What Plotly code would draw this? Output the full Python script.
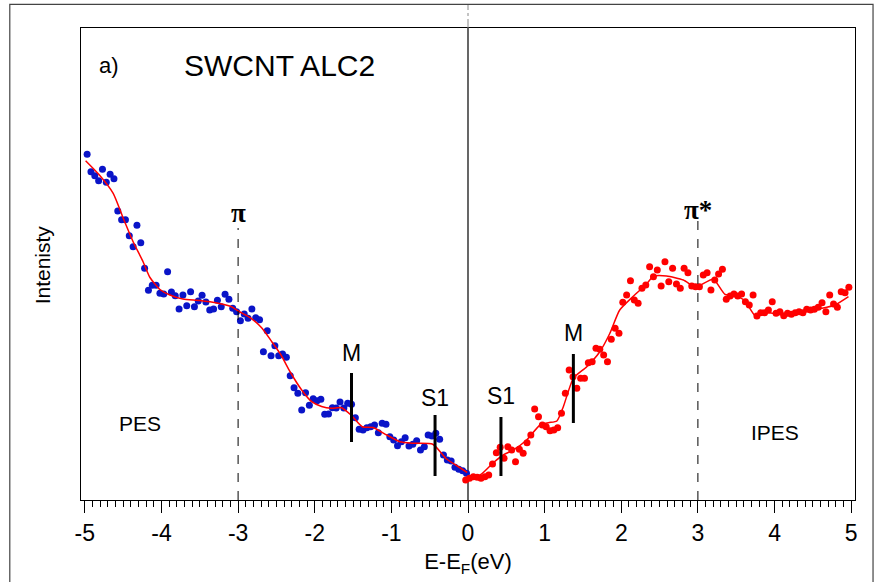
import plotly.graph_objects as go

# ---------------- data ----------------
PES_START, IPES_START, STEP = -4.97, -0.03, 0.05

pes_intensity = [
    3.457, 3.283, 3.243, 3.193, 3.307, 3.177, 3.257, 3.213, 2.890, 2.803,
    2.803, 2.643, 2.533, 2.747, 2.573, 2.317, 2.097, 2.147, 2.147, 2.067,
    2.060, 2.283, 2.080, 2.043, 1.910, 2.050, 1.943, 2.083, 1.933, 1.990,
    2.047, 1.980, 1.900, 1.910, 1.997, 1.933, 2.057, 2.007, 1.917, 1.883,
    1.793, 1.860, 1.817, 1.910, 1.823, 1.803, 1.483, 1.693, 1.443, 1.543,
    1.443, 1.460, 1.427, 1.243, 1.123, 1.067, 0.900, 1.073, 0.947, 1.013,
    0.993, 1.007, 0.857, 0.860, 0.923, 0.920, 0.980, 0.920, 0.967, 0.957,
    0.823, 0.707, 0.700, 0.723, 0.733, 0.750, 0.673, 0.767, 0.757, 0.633,
    0.600, 0.543, 0.583, 0.623, 0.540, 0.557, 0.593, 0.500, 0.533, 0.650,
    0.640, 0.667, 0.607, 0.450, 0.400, 0.390, 0.327, 0.307, 0.293, 0.267,
]
pes_energy = [round(PES_START + STEP * i, 3) for i in range(len(pes_intensity))]

ipes_intensity = [
    0.200, 0.217, 0.233, 0.227, 0.217, 0.233, 0.250, 0.360, 0.473, 0.527,
    0.417, 0.533, 0.500, 0.383, 0.507, 0.467, 0.573, 0.650, 0.910, 0.833,
    0.750, 0.733, 0.693, 0.700, 0.723, 0.867, 1.067, 1.300, 1.233, 1.117,
    1.217, 1.217, 1.373, 1.383, 1.517, 1.507, 1.450, 1.383, 1.607, 1.717,
    1.667, 1.977, 2.050, 2.193, 2.000, 1.967, 2.117, 2.150, 2.333, 2.233,
    2.300, 2.140, 2.383, 2.183, 2.317, 2.160, 2.117, 2.317, 2.273, 2.140,
    2.133, 2.133, 2.250, 2.273, 2.100, 2.200, 2.260, 2.307, 2.007, 2.040,
    2.060, 2.040, 2.060, 1.983, 1.950, 2.050, 1.840, 1.873, 1.873, 1.900,
    1.983, 1.867, 1.883, 1.843, 1.867, 1.857, 1.873, 1.883, 1.873, 1.907,
    1.900, 1.907, 1.927, 1.973, 1.883, 2.050, 1.960, 1.927, 2.083, 2.073,
    2.127,
]
ipes_energy = [round(IPES_START + STEP * i, 3) for i in range(len(ipes_intensity))]

pes_fit_energy = [-4.99, -4.81, -4.63, -4.50, -4.37, -4.24, -4.15, -4.02, -3.89, -3.72,
                  -3.50, -3.26, -3.085, -3.00, -2.83, -2.69, -2.56, -2.44, -2.32, -2.17,
                  -2.04, -1.91, -1.78, -1.65, -1.52, -1.38, -1.24, -1.06, -0.89, -0.71,
                  -0.46, -0.28, -0.14, -0.01]
pes_fit_intensity = [3.393, 3.250, 3.067, 2.820, 2.583, 2.383, 2.225, 2.105, 2.050, 2.010,
                     1.995, 1.967, 1.933, 1.890, 1.817, 1.720, 1.583, 1.450, 1.280, 1.100,
                     0.983, 0.935, 0.917, 0.923, 0.845, 0.733, 0.725, 0.650, 0.583, 0.567,
                     0.557, 0.410, 0.340, 0.275]

ipes_fit_energy = [-0.04, 0.157, 0.33, 0.46, 0.59, 0.766, 0.94, 1.05, 1.16, 1.244,
                   1.375, 1.55, 1.72, 1.85, 1.98, 2.16, 2.33, 2.42, 2.59, 2.81,
                   2.94, 3.01, 3.20, 3.355, 3.486, 3.616, 3.747, 3.91, 4.17, 4.41,
                   4.62, 4.79, 4.965]
ipes_fit_intensity = [0.217, 0.250, 0.373, 0.450, 0.500, 0.600, 0.750, 0.773, 0.790, 0.933,
                      1.217, 1.333, 1.483, 1.665, 1.900, 2.040, 2.160, 2.237, 2.240, 2.200,
                      2.140, 2.140, 2.207, 2.055, 2.050, 1.990, 1.845, 1.873, 1.845, 1.890,
                      1.917, 1.950, 2.033]

# feature markers: label, energy, bar bottom, bar top, label height
feature_labels = ["M", "S1", "S1", "M"]
feature_energy = [-1.52, -0.43, 0.43, 1.375]
feature_low = [0.58, 0.24, 0.24, 0.77]
feature_high = [1.27, 0.85, 0.83, 1.46]
feature_label_y = [1.47, 1.02, 1.04, 1.67]

pi_labels = ["π", "π*"]
pi_energy = [-3.0, 3.0]
pi_line_top = [2.72, 2.80]
pi_label_y = [2.87, 2.90]

x_ticks = [-5, -4, -3, -2, -1, 0, 1, 2, 3, 4, 5]
x_range = [-5.05, 5.05]
y_range = [0, 4.72]

BLUE = "#0a14c8"
RED = "#ff0000"
SANS = "Liberation Sans, Arial, sans-serif"

fig = go.Figure()
fig.add_trace(go.Scatter(x=pes_energy, y=pes_intensity, mode="markers",
                         marker=dict(color=BLUE, size=7), showlegend=False))
fig.add_trace(go.Scatter(x=ipes_energy, y=ipes_intensity, mode="markers",
                         marker=dict(color=RED, size=7), showlegend=False))
fig.add_trace(go.Scatter(x=pes_fit_energy, y=pes_fit_intensity, mode="lines",
                         line=dict(color=RED, width=1.5, shape="spline", smoothing=0.6),
                         showlegend=False))
fig.add_trace(go.Scatter(x=ipes_fit_energy, y=ipes_fit_intensity, mode="lines",
                         line=dict(color=RED, width=1.5, shape="spline", smoothing=0.6),
                         showlegend=False))

shapes = []
annotations = []
# vertical Fermi-level line
shapes.append(dict(type="line", xref="x", yref="y", x0=0, x1=0, y0=y_range[0], y1=y_range[1],
                   line=dict(color="black", width=1.2), layer="below"))
shapes.append(dict(type="line", xref="x", yref="paper", x0=0, x1=0, y0=1.0, y1=1.05,
                   line=dict(color="#888888", width=1, dash="dashdot")))
# outer frame
shapes.append(dict(type="rect", xref="paper", yref="paper", x0=-0.092, x1=1.0233,
                   y0=-0.25, y1=1.050, line=dict(color="#444444", width=1.2)))

for e, top, lab, ly in zip(pi_energy, pi_line_top, pi_labels, pi_label_y):
    shapes.append(dict(type="line", xref="x", yref="y", x0=e, x1=e, y0=0, y1=top,
                       line=dict(color="black", width=1, dash="dash")))
    annotations.append(dict(x=e, y=ly, xref="x", yref="y", text="<b>" + lab + "</b>",
                            showarrow=False, font=dict(family="Liberation Serif, serif", size=27, color="black")))

for lab, e, lo, hi, ly in zip(feature_labels, feature_energy, feature_low, feature_high, feature_label_y):
    shapes.append(dict(type="line", xref="x", yref="y", x0=e, x1=e, y0=lo, y1=hi,
                       line=dict(color="black", width=3)))
    annotations.append(dict(x=e, y=ly, xref="x", yref="y", text=lab, showarrow=False,
                            font=dict(family=SANS, size=23, color="black")))

annotations += [
    dict(x=-4.28, y=0.77, xref="x", yref="y", text="PES", showarrow=False,
         font=dict(family=SANS, size=21, color="black")),
    dict(x=4.01, y=0.68, xref="x", yref="y", text="IPES", showarrow=False,
         font=dict(family=SANS, size=21, color="black")),
    dict(x=-4.84, y=4.35, xref="x", yref="y", text="a)", showarrow=False, xanchor="left",
         font=dict(family=SANS, size=22, color="black")),
    dict(x=-3.73, y=4.35, xref="x", yref="y", text="SWCNT ALC2", showarrow=False, xanchor="left",
         font=dict(family=SANS, size=30, color="black")),
    dict(x=-0.066, y=0.498, xref="paper", yref="paper", text="Intenisty", showarrow=False,
         textangle=-90, font=dict(family=SANS, size=21, color="black")),
]

fig.update_layout(
    width=889, height=582,
    margin=dict(l=81, r=34, t=28, b=82),
    paper_bgcolor="white", plot_bgcolor="white",
    shapes=shapes, annotations=annotations,
    xaxis=dict(range=x_range, tickmode="array", tickvals=x_ticks,
               ticktext=[str(t) for t in x_ticks],
               ticks="outside", ticklen=12, tickwidth=1, tickcolor="black",
               minor=dict(dtick=0.1, ticklen=6, tickwidth=1, tickcolor="black", ticks="outside"),
               showline=True, linecolor="black", linewidth=1, mirror=True,
               showgrid=False, zeroline=False,
               tickfont=dict(family=SANS, size=23, color="black"),
               title=dict(text="E-E<sub>F</sub>(eV)", font=dict(family=SANS, size=22, color="black"),
                          standoff=9)),
    yaxis=dict(range=y_range, showticklabels=False, ticks="", showline=True, linecolor="black",
               linewidth=1, mirror=True, showgrid=False, zeroline=False),
)

fig.write_html("out.html")
